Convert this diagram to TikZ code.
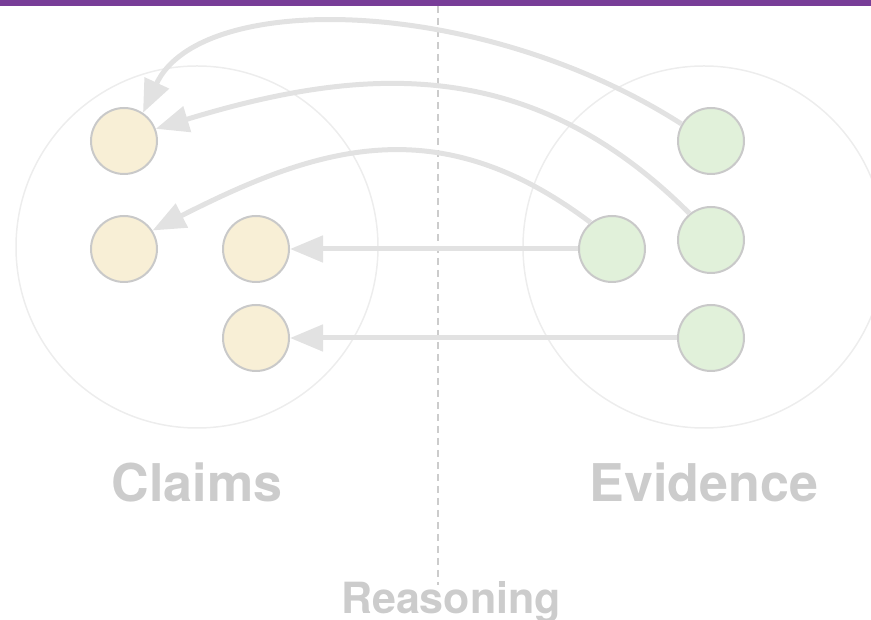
\documentclass[tikz,border=0pt]{standalone}
\usepackage{fontspec}
\setmainfont{TeX Gyre Heros}
\usetikzlibrary{%
  arrows.meta,%
  positioning,%
  calc%
}
\definecolor{barpurple}{HTML}{783D98}
\definecolor{labelgray}{HTML}{CCCCCC}
\definecolor{linkgray}{HTML}{E2E2E2}
\definecolor{rimgray}{HTML}{C9C9C9}
\definecolor{poolgray}{HTML}{EDEDED}
\definecolor{claimfill}{HTML}{F8EFD6}
\definecolor{evidfill}{HTML}{E1F1DA}

\begin{document}
\begin{tikzpicture}
  [
  x=1pt, y=1pt,
  line width=5pt,
  >={Triangle[length=33pt,width=26pt]},
  link/.style={draw=linkgray, ->},
  claimnode/.style={circle, inner sep = 0pt, minimum size = 66pt, line width=2pt, draw=rimgray, fill=claimfill},
  evidnode/.style={circle, inner sep = 0pt, minimum size = 66pt, line width=2pt, draw=rimgray, fill=evidfill},
  pool/.style={circle, inner sep = 0pt, minimum size = 362pt, line width=1.5pt, draw=poolgray},
  biglabel/.style={text=labelgray, font=\bfseries\fontsize{52}{60}\selectfont, anchor=base},
  ]
  \useasboundingbox (0,0) rectangle (871,620);
  \fill[barpurple] (0,614) rectangle (871,620);

  % the two pools
  \node[pool] (claims) at (197,373) {};
  \node[pool] (evidence) at (704,373) {};

  % reasoning divide
  \coordinate (divtop) at (438,614);
  \coordinate (divbot) at (438,35);
  \draw[labelgray, line width=1.5pt, dash pattern=on 7pt off 5pt] (divtop) -- (divbot);

  \node[claimnode] (c1) at (124,479) {};
  \node[claimnode] (c2) at (124,371) {};
  \node[claimnode] (c3) at (256,371) {};
  \node[claimnode] (c4) at (256,282) {};

  \node[evidnode] (e1) at (711,479) {};
  \node[evidnode] (e2) at (711,380) {};
  \node[evidnode] (e3) at (612,371) {};
  \node[evidnode] (e4) at (711,282) {};

  \draw[link] (e1.150) .. controls (480,625) and (200,630) .. (c1.56);
  \draw[link] (e2.129) to[out=135, in=17, looseness=1.05] (c1.21);
  \draw[link] (e3.129) to[out=143, in=27, looseness=1.1] (c2.33);
  \draw[link] (e3) -- (c3);
  \draw[link] (e4) -- (c4);

  \node[biglabel] (claimstext) at (197,118) {Claims};
  \node[biglabel] (evidtext) at (704,118) {Evidence};
  \node[biglabel, font=\bfseries\fontsize{43}{50}\selectfont] (reasontext) at (451,6) {Reasoning};
\end{tikzpicture}
\end{document}
